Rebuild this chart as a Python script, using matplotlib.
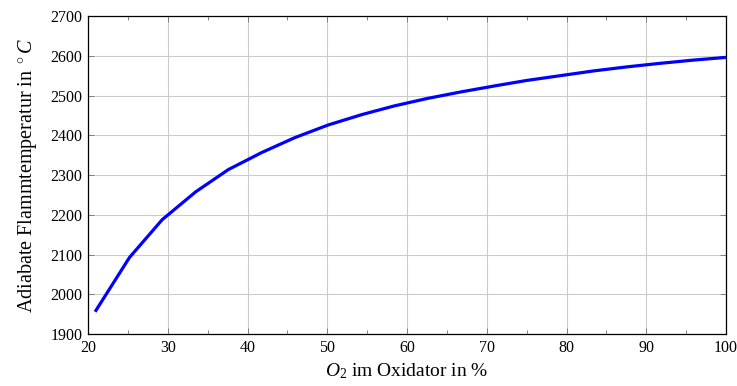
import matplotlib
matplotlib.use("Agg")
import matplotlib.pyplot as plt
from matplotlib.ticker import MultipleLocator

plt.rcParams['font.family'] = ['Liberation Serif', 'DejaVu Serif']
plt.rcParams['mathtext.fontset'] = 'custom'
plt.rcParams['mathtext.rm'] = 'Liberation Serif'
plt.rcParams['mathtext.it'] = 'Liberation Serif:italic'

# O2 share in the oxidiser (%) and adiabatic flame temperature (deg C)
o2_share = [21.0, 25.2, 29.3, 33.5, 37.6, 41.8, 45.9, 50.1, 54.3, 58.4,
            62.6, 66.7, 70.9, 75.0, 79.2, 83.4, 87.5, 91.7, 95.8, 100.0]
t_ad = [1960, 2093, 2188, 2258, 2314, 2357, 2394, 2426, 2452, 2474,
        2493, 2509, 2524, 2538, 2550, 2562, 2572, 2581, 2589, 2596]

fig = plt.figure(figsize=(7.37, 3.86), dpi=100)
ax = fig.add_axes([0.1194, 0.134, 0.8657, 0.8245])

ax.plot(o2_share, t_ad, color='#0000ff', linewidth=2.3, zorder=3)

ax.set_xlim(20, 100)
ax.set_ylim(1900, 2700)
ax.xaxis.set_major_locator(MultipleLocator(10))
ax.xaxis.set_minor_locator(MultipleLocator(5))
ax.yaxis.set_major_locator(MultipleLocator(100))

ax.grid(True, which='major', color='#cccccc', linewidth=0.8)
ax.set_axisbelow(True)
ax.tick_params(which='both', direction='in', top=True, right=True,
               labelsize=11.5, color='#808080', labelcolor='black')
ax.tick_params(which='major', length=4.5, width=0.7, pad=4)
ax.tick_params(which='minor', length=3, width=0.7)
for s in ax.spines.values():
    s.set_linewidth(0.9)

ax.set_xlabel(r'$O_2$ im Oxidator in %', fontsize=14, labelpad=4)
ax.set_ylabel(r'Adiabate Flammtemperatur in $^\circ C$', fontsize=14.5, labelpad=8)

fig.savefig('out.png', dpi=100)
